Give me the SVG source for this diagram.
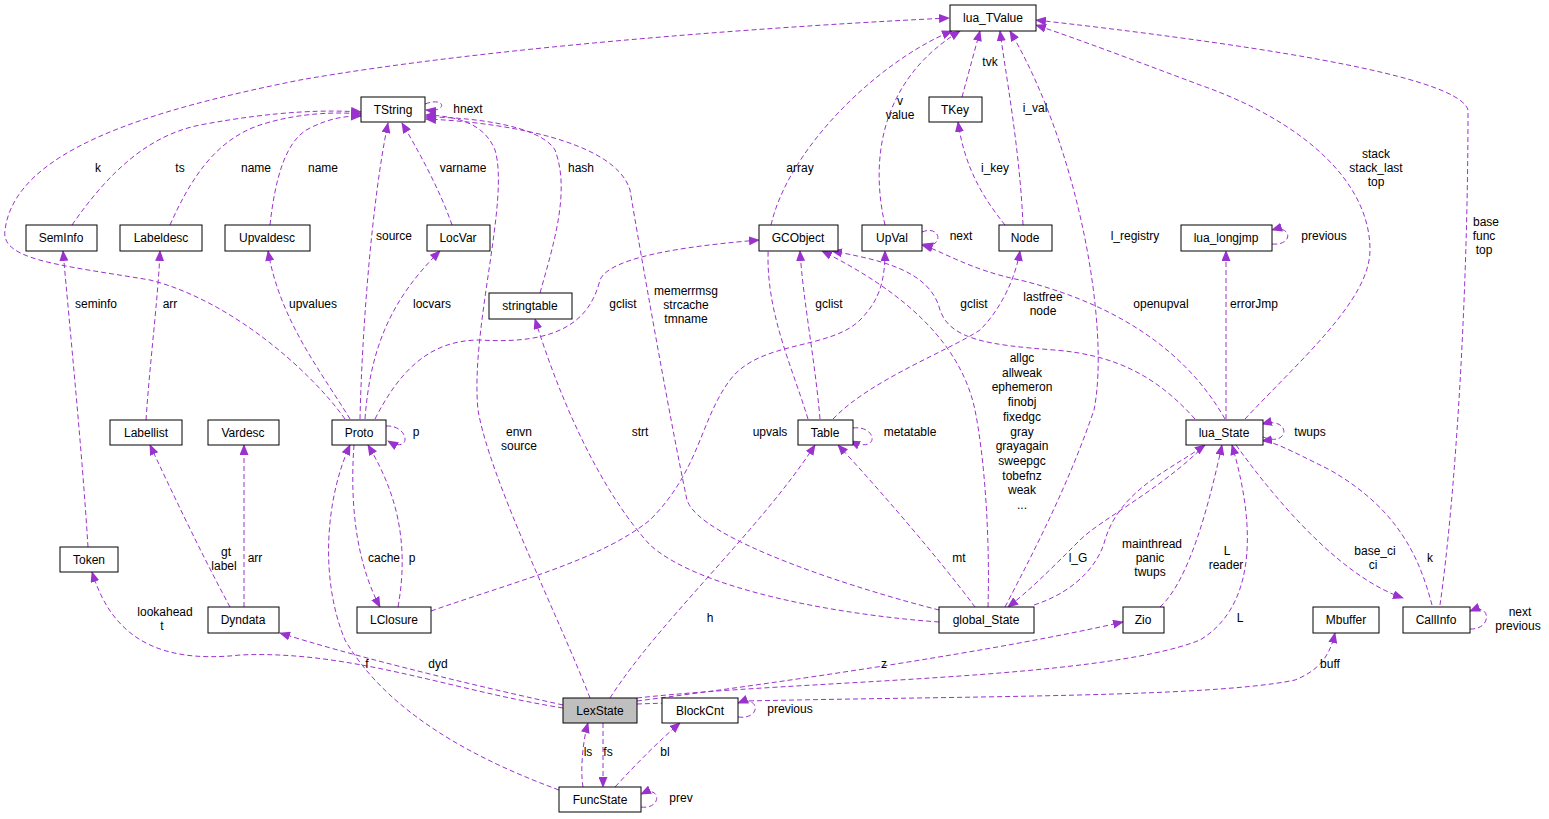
<svg xmlns="http://www.w3.org/2000/svg" width="1549" height="819" viewBox="0 0 1549 819">
<style>
.n rect{fill:#fff;stroke:#000;stroke-width:1}
.n text,.l{font-family:"Liberation Sans",Arial,sans-serif;font-size:12px;fill:#000}
.n text{text-anchor:middle}
.l{text-anchor:middle}
#e path{fill:none;stroke:#9a32cd;stroke-width:1;stroke-dasharray:5,3;marker-end:url(#a)}
</style>
<defs><marker id="a" markerUnits="userSpaceOnUse" markerWidth="11" markerHeight="9" refX="10" refY="4.5" orient="auto"><path d="M0,0 L11,4.5 L0,9 z" fill="#9a32cd"/></marker></defs>
<rect width="1549" height="819" fill="#fff"/>
<g id="e">
<path d="M345,419 C310,370 230,300 150,280 C60,265 0,260 5,230 C15,150 150,110 300,80 C500,45 800,25 949,18"/>
<path d="M72,225 C110,170 150,135 200,125 C280,110 330,110 361,112"/>
<path d="M170,225 C190,180 215,140 260,125 C300,112 340,112 361,114"/>
<path d="M270,225 C275,180 285,140 310,128 C330,118 345,116 361,116"/>
<path d="M360,419 C362,330 372,200 388,123"/>
<path d="M452,225 C440,190 418,150 402,123"/>
<path d="M425,104 C446,96 448,113 426,110"/>
<path d="M590,698 C560,620 490,480 478,410 C470,330 510,200 495,150 C485,125 460,116 426,115"/>
<path d="M540,293 C555,240 570,190 555,150 C540,125 470,117 426,117"/>
<path d="M939,610 C860,590 700,540 687,500 C670,420 640,250 630,190 C615,140 500,122 426,119"/>
<path d="M375,419 C400,370 430,340 480,340 C560,345 590,320 600,280 C610,255 700,245 759,240"/>
<path d="M386,426 C410,425 412,455 388,441"/>
<path d="M350,419 C320,370 280,320 268,251"/>
<path d="M365,419 C370,350 390,300 440,251"/>
<path d="M146,420 C150,360 158,300 160,251"/>
<path d="M88,547 C82,450 70,330 63,251"/>
<path d="M230,607 C210,570 185,520 150,445"/>
<path d="M244,607 L244,445"/>
<path d="M354,445 C350,500 355,560 380,607"/>
<path d="M398,607 C410,540 395,490 368,445"/>
<path d="M431,611 C520,580 600,560 650,520 C700,470 700,420 730,380 C760,340 830,350 860,320 C880,300 885,280 885,251"/>
<path d="M808,419 C790,360 760,300 770,230 C785,150 880,60 952,31"/>
<path d="M885,225 C870,160 880,80 960,31"/>
<path d="M962,97 L980,31"/>
<path d="M1005,225 C985,200 965,170 958,122"/>
<path d="M1023,225 C1020,150 1005,70 1000,31"/>
<path d="M922,232 C942,224 944,250 923,244"/>
<path d="M820,419 C815,360 803,300 800,251"/>
<path d="M833,419 C870,380 950,350 980,330 C1000,310 1015,280 1020,251"/>
<path d="M853,428 C878,425 880,455 850,441"/>
<path d="M1005,607 C1040,540 1070,480 1094,410 C1110,330 1080,150 1010,31"/>
<path d="M1245,419 C1300,360 1370,300 1370,250 C1370,180 1300,120 1200,85 C1120,55 1080,40 1036,25"/>
<path d="M1440,605 C1455,500 1468,300 1468,110 C1460,80 1300,50 1036,20"/>
<path d="M1195,419 C1160,380 1120,355 1054,350 C990,345 950,340 940,310 C930,270 880,260 832,251"/>
<path d="M988,607 C990,540 985,460 975,410 C960,340 900,290 822,251"/>
<path d="M1225,419 C1180,340 1100,300 1020,280 C970,270 940,250 922,245"/>
<path d="M1226,419 L1226,251"/>
<path d="M1272,244 C1294,246 1292,224 1272,230"/>
<path d="M1263,437 C1290,448 1292,416 1262,424"/>
<path d="M975,607 C940,560 880,490 838,445"/>
<path d="M610,698 C660,620 760,530 815,445"/>
<path d="M939,622 C840,615 700,590 650,545 C600,490 560,400 535,319"/>
<path d="M1205,445 C1160,490 1100,520 1080,540 C1050,570 1030,590 1008,607"/>
<path d="M1034,605 C1080,590 1100,560 1105,540 C1120,490 1170,470 1205,445"/>
<path d="M1160,607 C1190,580 1210,500 1222,445"/>
<path d="M637,698 C800,680 1100,680 1200,640 C1250,610 1260,540 1232,445"/>
<path d="M1236,445 C1290,520 1350,580 1403,598"/>
<path d="M1432,605 C1420,560 1400,510 1330,470 C1290,450 1270,440 1262,441"/>
<path d="M1470,629 C1492,630 1492,602 1470,611"/>
<path d="M637,701 C800,680 1000,650 1123,622"/>
<path d="M637,704 C900,695 1200,700 1295,680 C1320,670 1330,655 1335,633"/>
<path d="M563,705 C450,680 350,655 280,633"/>
<path d="M563,708 C450,690 350,650 240,655 C150,665 110,630 92,572"/>
<path d="M559,790 C450,750 380,700 345,640 C320,580 325,500 350,445"/>
<path d="M603,723 L603,787"/>
<path d="M583,787 C580,770 583,740 588,723"/>
<path d="M615,787 C640,760 660,740 680,723"/>
<path d="M738,717 C762,720 760,694 738,703"/>
<path d="M641,807 C662,810 662,784 641,794"/>
</g>
<g class="labels">
<text class="l" x="98" y="172">k</text>
<text class="l" x="180" y="172">ts</text>
<text class="l" x="256" y="172">name</text>
<text class="l" x="323" y="172">name</text>
<text class="l" x="394" y="240">source</text>
<text class="l" x="463" y="172">varname</text>
<text class="l" x="468" y="113">hnext</text>
<text class="l" x="519" y="436">envn<tspan x="519" dy="14">source</tspan></text>
<text class="l" x="581" y="172">hash</text>
<text class="l" x="686" y="295">memerrmsg<tspan x="686" dy="14">strcache</tspan><tspan x="686" dy="14">tmname</tspan></text>
<text class="l" x="623" y="308">gclist</text>
<text class="l" x="416" y="436">p</text>
<text class="l" x="313" y="308">upvalues</text>
<text class="l" x="432" y="308">locvars</text>
<text class="l" x="170" y="308">arr</text>
<text class="l" x="96" y="308">seminfo</text>
<text class="l" x="226" y="556">gt<tspan x="224" dy="14">label</tspan></text>
<text class="l" x="255" y="562">arr</text>
<text class="l" x="384" y="562">cache</text>
<text class="l" x="412" y="562">p</text>
<text class="l" x="770" y="436">upvals</text>
<text class="l" x="800" y="172">array</text>
<text class="l" x="900" y="105">v<tspan x="900" dy="14">value</tspan></text>
<text class="l" x="990" y="66">tvk</text>
<text class="l" x="995" y="172">i_key</text>
<text class="l" x="1035" y="112">i_val</text>
<text class="l" x="961" y="240">next</text>
<text class="l" x="829" y="308">gclist</text>
<text class="l" x="1043" y="301">lastfree<tspan x="1043" dy="14">node</tspan></text>
<text class="l" x="910" y="436">metatable</text>
<text class="l" x="1135" y="240">l_registry</text>
<text class="l" x="1376" y="158">stack<tspan x="1376" dy="14">stack_last</tspan><tspan x="1376" dy="14">top</tspan></text>
<text class="l" x="1486" y="226">base<tspan x="1484" dy="14">func</tspan><tspan x="1484" dy="14">top</tspan></text>
<text class="l" x="974" y="308">gclist</text>
<text class="l" x="1022" y="362">allgc<tspan x="1022" dy="14.7">allweak</tspan><tspan x="1022" dy="14.7">ephemeron</tspan><tspan x="1022" dy="14.7">finobj</tspan><tspan x="1022" dy="14.7">fixedgc</tspan><tspan x="1022" dy="14.7">gray</tspan><tspan x="1022" dy="14.7">grayagain</tspan><tspan x="1022" dy="14.7">sweepgc</tspan><tspan x="1022" dy="14.7">tobefnz</tspan><tspan x="1022" dy="14.7">weak</tspan><tspan x="1022" dy="14.7">...</tspan></text>
<text class="l" x="1161" y="308">openupval</text>
<text class="l" x="1254" y="308">errorJmp</text>
<text class="l" x="1324" y="240">previous</text>
<text class="l" x="1310" y="436">twups</text>
<text class="l" x="959" y="562">mt</text>
<text class="l" x="710" y="622">h</text>
<text class="l" x="640" y="436">strt</text>
<text class="l" x="1078" y="562">l_G</text>
<text class="l" x="1152" y="548">mainthread<tspan x="1150" dy="14">panic</tspan><tspan x="1150" dy="14">twups</tspan></text>
<text class="l" x="1227" y="555">L<tspan x="1226" dy="14">reader</tspan></text>
<text class="l" x="1240" y="622">L</text>
<text class="l" x="1375" y="555">base_ci<tspan x="1373" dy="14">ci</tspan></text>
<text class="l" x="1430" y="562">k</text>
<text class="l" x="1520" y="616">next<tspan x="1518" dy="14">previous</tspan></text>
<text class="l" x="884" y="668">z</text>
<text class="l" x="1330" y="668">buff</text>
<text class="l" x="438" y="668">dyd</text>
<text class="l" x="165" y="616">lookahead<tspan x="162" dy="14">t</tspan></text>
<text class="l" x="367" y="668">f</text>
<text class="l" x="608" y="756">fs</text>
<text class="l" x="588" y="756">ls</text>
<text class="l" x="665" y="756">bl</text>
<text class="l" x="790" y="713">previous</text>
<text class="l" x="681" y="802">prev</text>
</g>
<g id="lua_TValue" class="n"><rect x="950" y="5" width="86" height="26"/><text x="993" y="22">lua_TValue</text></g>
<g id="TString" class="n"><rect x="361" y="97" width="64" height="25"/><text x="393" y="114">TString</text></g>
<g id="TKey" class="n"><rect x="929" y="97" width="53" height="25"/><text x="955" y="114">TKey</text></g>
<g id="SemInfo" class="n"><rect x="26" y="225" width="71" height="26"/><text x="61" y="242">SemInfo</text></g>
<g id="Labeldesc" class="n"><rect x="120" y="225" width="82" height="26"/><text x="161" y="242">Labeldesc</text></g>
<g id="Upvaldesc" class="n"><rect x="225" y="225" width="85" height="26"/><text x="267" y="242">Upvaldesc</text></g>
<g id="LocVar" class="n"><rect x="427" y="225" width="63" height="26"/><text x="458" y="242">LocVar</text></g>
<g id="GCObject" class="n"><rect x="759" y="225" width="79" height="26"/><text x="798" y="242">GCObject</text></g>
<g id="UpVal" class="n"><rect x="862" y="225" width="60" height="26"/><text x="892" y="242">UpVal</text></g>
<g id="Node" class="n"><rect x="999" y="225" width="53" height="26"/><text x="1025" y="242">Node</text></g>
<g id="lua_longjmp" class="n"><rect x="1181" y="225" width="91" height="26"/><text x="1226" y="242">lua_longjmp</text></g>
<g id="stringtable" class="n"><rect x="489" y="293" width="83" height="26"/><text x="530" y="310">stringtable</text></g>
<g id="Labellist" class="n"><rect x="110" y="420" width="72" height="25"/><text x="146" y="437">Labellist</text></g>
<g id="Vardesc" class="n"><rect x="208" y="420" width="71" height="25"/><text x="243" y="437">Vardesc</text></g>
<g id="Proto" class="n"><rect x="332" y="420" width="54" height="25"/><text x="359" y="437">Proto</text></g>
<g id="Table" class="n"><rect x="798" y="420" width="55" height="25"/><text x="825" y="437">Table</text></g>
<g id="lua_State" class="n"><rect x="1186" y="420" width="77" height="25"/><text x="1224" y="437">lua_State</text></g>
<g id="Token" class="n"><rect x="60" y="547" width="58" height="25"/><text x="89" y="564">Token</text></g>
<g id="Dyndata" class="n"><rect x="208" y="607" width="71" height="26"/><text x="243" y="624">Dyndata</text></g>
<g id="LClosure" class="n"><rect x="357" y="607" width="74" height="26"/><text x="394" y="624">LClosure</text></g>
<g id="global_State" class="n"><rect x="939" y="607" width="95" height="26"/><text x="986" y="624">global_State</text></g>
<g id="Zio" class="n"><rect x="1123" y="607" width="41" height="26"/><text x="1143" y="624">Zio</text></g>
<g id="Mbuffer" class="n"><rect x="1313" y="607" width="66" height="26"/><text x="1346" y="624">Mbuffer</text></g>
<g id="CallInfo" class="n"><rect x="1403" y="607" width="67" height="26"/><text x="1436" y="624">CallInfo</text></g>
<g id="LexState" class="n"><rect x="563" y="698" width="74" height="25" style="fill:#bfbfbf"/><text x="600" y="715">LexState</text></g>
<g id="BlockCnt" class="n"><rect x="662" y="698" width="76" height="25"/><text x="700" y="715">BlockCnt</text></g>
<g id="FuncState" class="n"><rect x="559" y="787" width="82" height="25"/><text x="600" y="804">FuncState</text></g>
</svg>
